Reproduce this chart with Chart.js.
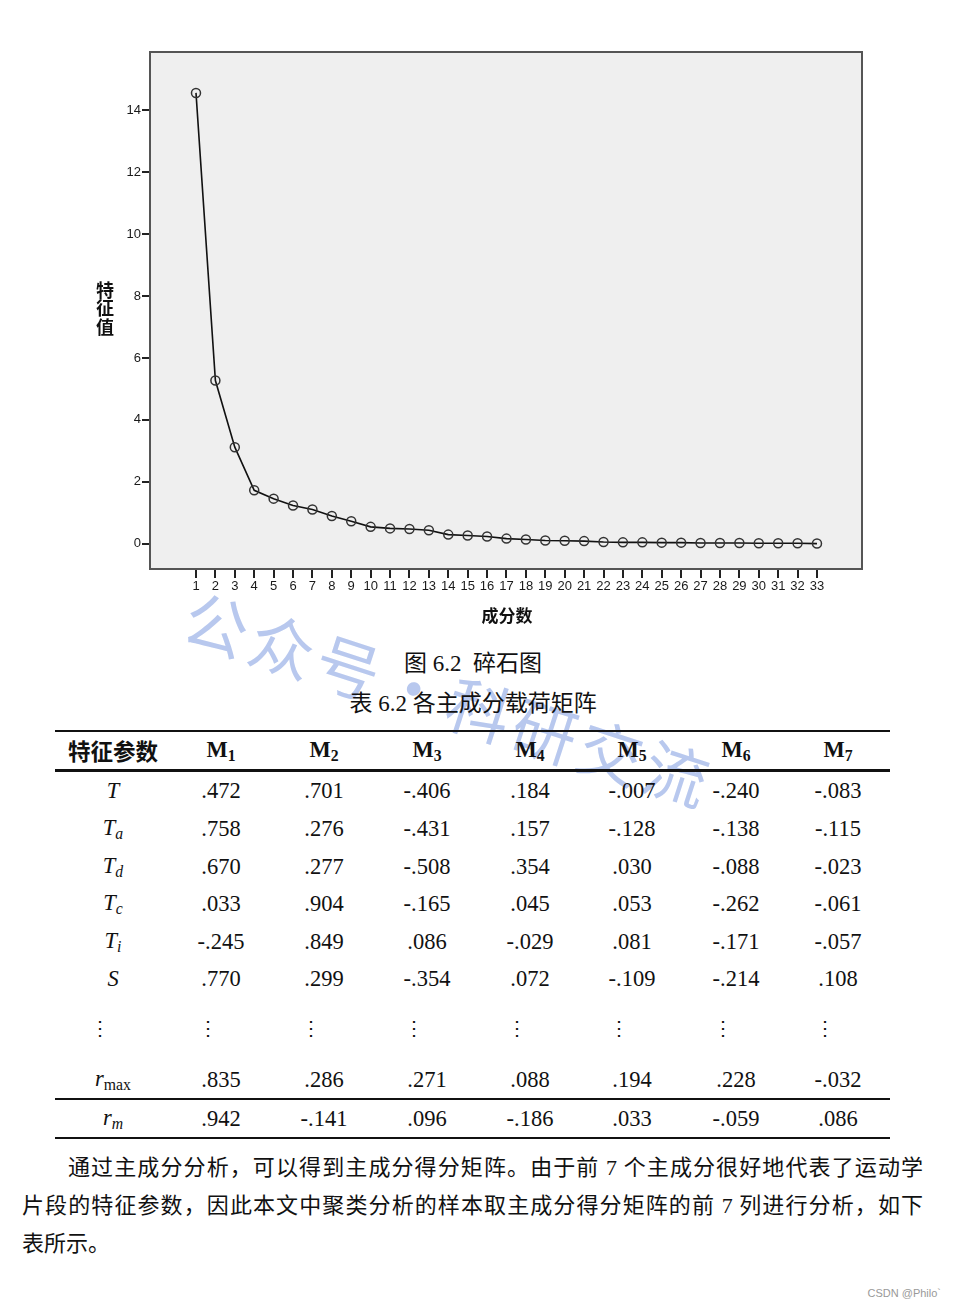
<!DOCTYPE html>
<html>
<head>
<meta charset="utf-8">
<script src="https://cdn.jsdelivr.net/npm/chart.js@4.4.0/dist/chart.umd.min.js"></script>
<style>
  body { margin: 0; width: 955px; height: 1308px; background: #fff; position: relative; overflow: hidden;
         font-family: "Liberation Serif", "Noto Sans CJK SC", serif; color: #111; }
  #chartBox { position: absolute; left: 0; top: 0; width: 955px; height: 640px; z-index: 2; }
  .abs { position: absolute; white-space: nowrap; transform: translate(-50%, -50%); line-height: 1; z-index: 2; }
  .rule { position: absolute; left: 55px; width: 835px; background: #111; z-index: 2; }
  .cap { font-size: 23px; }
  .num { font-size: 22.5px; }
  .hdr { font-size: 22.5px; font-weight: bold; }
  .cjk { font-family: "Noto Sans CJK SC", sans-serif; }
  sub { font-size: 70%; vertical-align: -0.25em; }
  .para { position: absolute; left: 22px; width: 901px; font-size: 22px; z-index: 2;
          font-family: "Liberation Serif", "Noto Sans CJK SC", serif; line-height: 1; }
  .just { text-align: justify; text-align-last: justify; }
  #wm { position: absolute; left: 450px; top: 697px; transform: translate(-50%, -50%) rotate(18deg);
        font-family: "Noto Sans CJK SC", sans-serif; font-size: 64px; color: rgb(184, 200, 238);
        white-space: nowrap; letter-spacing: 5px; z-index: 1; }
  #csdn { position: absolute; right: 14px; top: 1287px; font: 11px "Liberation Sans", sans-serif; color: #999; }
</style>
</head>
<body>
<div id="chartBox"><canvas id="scree"></canvas></div>

<div class="abs cap" style="left:473px;top:663px">图 6.2&nbsp;&nbsp;碎石图</div>
<div class="abs cap" style="left:473px;top:703px">表 6.2 各主成分载荷矩阵</div>

<div id="table"></div>

<div class="para just" style="top:1157px;padding-left:46px;width:855px">通过主成分分析，可以得到主成分得分矩阵。由于前 7 个主成分很好地代表了运动学</div>
<div class="para just" style="top:1195px">片段的特征参数，因此本文中聚类分析的样本取主成分得分矩阵的前 7 列进行分析，如下</div>
<div class="para" style="top:1233px">表所示。</div>

<div id="wm">公众号·科研交流</div>
<div id="csdn">CSDN @Philo`</div>

<script>
// scree plot data
const components = [1, 2, 3, 4, 5, 6, 7, 8, 9, 10, 11, 12, 13, 14, 15, 16, 17,
  18, 19, 20, 21, 22, 23, 24, 25, 26, 27, 28, 29, 30, 31, 32, 33];
const eigenvalues = [14.55, 5.27, 3.12, 1.73, 1.46, 1.24, 1.11, 0.90, 0.73, 0.55, 0.50,
  0.48, 0.44, 0.30, 0.27, 0.24, 0.17, 0.14, 0.11, 0.10, 0.09, 0.06, 0.05, 0.05, 0.04,
  0.04, 0.03, 0.03, 0.03, 0.02, 0.02, 0.02, 0.01];
const yTicks = [0, 2, 4, 6, 8, 10, 12, 14];

// loading matrix table
const tableHeads = ["M1", "M2", "M3", "M4", "M5", "M6", "M7"];
const rowNames = ["T", "Ta", "Td", "Tc", "Ti", "S", "dots", "rmax", "rm"];
const rowT    = [".472", ".701", "-.406", ".184", "-.007", "-.240", "-.083"];
const rowTa   = [".758", ".276", "-.431", ".157", "-.128", "-.138", "-.115"];
const rowTd   = [".670", ".277", "-.508", ".354", ".030", "-.088", "-.023"];
const rowTc   = [".033", ".904", "-.165", ".045", ".053", "-.262", "-.061"];
const rowTi   = ["-.245", ".849", ".086", "-.029", ".081", "-.171", "-.057"];
const rowS    = [".770", ".299", "-.354", ".072", "-.109", "-.214", ".108"];
const rowDots = ["⋮", "⋮", "⋮", "⋮", "⋮", "⋮", "⋮"];
const rowRmax = [".835", ".286", ".271", ".088", ".194", ".228", "-.032"];
const rowRm   = [".942", "-.141", ".096", "-.186", ".033", "-.059", ".086"];

const plotBg = {
  id: 'plotBg',
  beforeDraw(chart) {
    const {ctx, chartArea: a} = chart;
    ctx.save();
    ctx.fillStyle = '#efefef';
    ctx.fillRect(a.left, a.top, a.right - a.left, a.bottom - a.top);
    ctx.restore();
  },
  afterDraw(chart) {
    const {ctx, chartArea: a} = chart;
    ctx.save();
    ctx.strokeStyle = '#555';
    ctx.lineWidth = 2;
    ctx.strokeRect(a.left, a.top, a.right - a.left, a.bottom - a.top);
    // axis titles (y title stacked upright)
    ctx.fillStyle = '#111';
    ctx.font = 'bold 18px "Noto Sans CJK SC"';
    ctx.textAlign = 'center';
    ctx.textBaseline = 'middle';
    ['特', '征', '值'].forEach((ch, i) => ctx.fillText(ch, 105, 290 + i * 18.5));
    ctx.font = 'bold 17px "Noto Sans CJK SC"';
    ctx.fillText('成分数', 507, 616);
    ctx.restore();
  }
};

new Chart(document.getElementById('scree'), {
  type: 'line',
  data: {
    datasets: [{
      data: components.map((c, i) => ({x: c, y: eigenvalues[i]})),
      borderColor: '#111',
      borderWidth: 1.6,
      pointRadius: 4.5,
      pointBorderWidth: 1.5,
      pointBorderColor: '#333',
      pointBackgroundColor: 'rgba(0,0,0,0)',
      tension: 0
    }]
  },
  options: {
    responsive: true,
    maintainAspectRatio: false,
    animation: false,
    layout: {padding: {left: 80, right: 93, top: 52, bottom: 11}},
    plugins: {legend: {display: false}, tooltip: {enabled: false}},
    scales: {
      x: {
        type: 'linear', min: -1.37, max: 35.32,
        afterBuildTicks: s => { s.ticks = components.map(v => ({value: v})); },
        afterFit: s => { s.height = 60; },
        grid: {drawOnChartArea: false, tickLength: 9, color: '#222', lineWidth: 2},
        border: {display: false},
        ticks: {autoSkip: false, maxRotation: 0, padding: 1, color: '#1a1a1a',
                font: {family: 'Liberation Sans', size: 13}}
      },
      y: {
        min: -0.81, max: 15.87,
        afterBuildTicks: s => { s.ticks = yTicks.map(v => ({value: v})); },
        afterFit: s => { s.width = 70; },
        grid: {drawOnChartArea: false, tickLength: 8, color: '#222', lineWidth: 2},
        border: {display: false},
        ticks: {padding: 1, color: '#1a1a1a', font: {family: 'Liberation Sans', size: 13}}
      }
    }
  },
  plugins: [plotBg]
});

// table layout
const colX = [113, 221, 324, 427, 530, 632, 736, 838];
const rowY = [791, 829, 867, 904, 942, 979, 1028, 1080, 1119];
const rows = [rowT, rowTa, rowTd, rowTc, rowTi, rowS, rowDots, rowRmax, rowRm];
const labelHtml = {
  T: '<i>T</i>', Ta: '<i>T<sub>a</sub></i>', Td: '<i>T<sub>d</sub></i>',
  Tc: '<i>T<sub>c</sub></i>', Ti: '<i>T<sub>i</sub></i>', S: '<i>S</i>',
  dots: '⋮', rmax: '<i>r</i><sub>max</sub>', rm: '<i>r<sub>m</sub></i>'
};
const tbl = document.getElementById('table');
function put(html, x, y, cls, extra) {
  const d = document.createElement('div');
  d.className = 'abs ' + cls;
  d.style.left = x + 'px';
  d.style.top = y + 'px';
  if (extra) d.style.cssText += extra;
  d.innerHTML = html;
  tbl.appendChild(d);
}
function rule(y, h) {
  const d = document.createElement('div');
  d.className = 'rule';
  d.style.top = (y - h / 2) + 'px';
  d.style.height = h + 'px';
  tbl.appendChild(d);
}
rule(731, 1.3); rule(770, 3); rule(1099, 1.2); rule(1138, 1.3);
put('特征参数', colX[0], 750, 'hdr cjk');
tableHeads.forEach((h, i) => put('M<sub>' + h.slice(1) + '</sub>', colX[i + 1], 751, 'hdr'));
rows.forEach((r, ri) => {
  const dots = rowNames[ri] === 'dots';
  const font = dots ? ';font-family:"DejaVu Serif";font-size:20px' : '';
  put(labelHtml[rowNames[ri]], colX[0] - (dots ? 13 : 0), rowY[ri], 'num', font);
  r.forEach((v, ci) => put(v, colX[ci + 1] - (dots ? 13 : 0), rowY[ri], 'num', font));
});
</script>
</body>
</html>
